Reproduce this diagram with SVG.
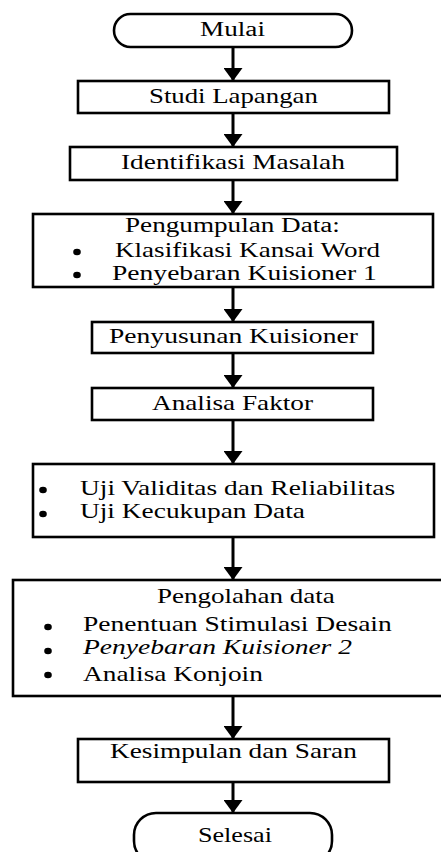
<svg xmlns="http://www.w3.org/2000/svg" width="441" height="852" viewBox="0 0 441 852">
<defs>
<style>
.box{fill:#fff;stroke:#000;stroke-width:2.6}
.con{stroke:#000;stroke-width:3;fill:none}
</style>
<marker id="ah" markerUnits="userSpaceOnUse" viewBox="0 0 13 19" markerWidth="13" markerHeight="19" refX="13" refY="9.5" orient="auto">
<path d="M0,0 L13,9.5 L0,19 z" fill="#000"/>
</marker>
</defs>
<rect width="441" height="852" fill="#fff"/>
<g id="connectors">
<line class="con" x1="233" y1="47" x2="233" y2="81" marker-end="url(#ah)"/>
<line class="con" x1="233" y1="113" x2="233" y2="147" marker-end="url(#ah)"/>
<line class="con" x1="233" y1="180" x2="233" y2="214" marker-end="url(#ah)"/>
<line class="con" x1="233" y1="287" x2="233" y2="322" marker-end="url(#ah)"/>
<line class="con" x1="233" y1="353" x2="233" y2="388" marker-end="url(#ah)"/>
<line class="con" x1="233" y1="420" x2="233" y2="464" marker-end="url(#ah)"/>
<line class="con" x1="233" y1="537" x2="233" y2="580" marker-end="url(#ah)"/>
<line class="con" x1="233" y1="696" x2="233" y2="739" marker-end="url(#ah)"/>
<line class="con" x1="233" y1="782" x2="233" y2="813" marker-end="url(#ah)"/>
</g>
<g font-family="Liberation Serif" font-size="20" fill="#000">
<g id="mulai">
<rect class="box" x="114" y="14" width="238" height="33" rx="16.5"/>
<text transform="translate(200,36) scale(1.36,1)">Mulai</text>
</g>
<g id="studi">
<rect class="box" x="78" y="81" width="311" height="32"/>
<text transform="translate(149,103) scale(1.34,1)">Studi Lapangan</text>
</g>
<g id="identifikasi">
<rect class="box" x="70" y="147" width="327" height="33"/>
<text transform="translate(121,169) scale(1.367,1)">Identifikasi Masalah</text>
</g>
<g id="pengumpulan">
<rect class="box" x="33" y="214" width="400" height="73"/>
<text transform="translate(125,232) scale(1.358,1)">Pengumpulan Data:</text>
<ellipse cx="77" cy="252" rx="3.8" ry="3.3"/>
<text transform="translate(115,257) scale(1.355,1)">Klasifikasi Kansai Word</text>
<ellipse cx="77" cy="275" rx="3.8" ry="3.3"/>
<text transform="translate(112,280) scale(1.379,1)">Penyebaran Kuisioner 1</text>
</g>
<g id="penyusunan">
<rect class="box" x="92" y="322" width="281" height="31"/>
<text transform="translate(109,343) scale(1.379,1)">Penyusunan Kuisioner</text>
</g>
<g id="analisa">
<rect class="box" x="92" y="388" width="281" height="32"/>
<text transform="translate(152,410) scale(1.361,1)">Analisa Faktor</text>
</g>
<g id="uji">
<rect class="box" x="33" y="464" width="401" height="73"/>
<ellipse cx="43" cy="490" rx="3.8" ry="3.3"/>
<text transform="translate(80,495) scale(1.37,1)">Uji Validitas dan Reliabilitas</text>
<ellipse cx="43" cy="514" rx="3.8" ry="3.3"/>
<text transform="translate(80,518) scale(1.369,1)">Uji Kecukupan Data</text>
</g>
<g id="pengolahan">
<rect class="box" x="13" y="580" width="445" height="116"/>
<text transform="translate(157,603) scale(1.352,1)">Pengolahan data</text>
<ellipse cx="48" cy="627" rx="3.8" ry="3.3"/>
<text transform="translate(83,631) scale(1.377,1)">Penentuan Stimulasi Desain</text>
<ellipse cx="48" cy="651" rx="3.8" ry="3.3"/>
<text font-style="italic" transform="translate(83,654) scale(1.376,1)">Penyebaran Kuisioner 2</text>
<ellipse cx="48" cy="675" rx="3.8" ry="3.3"/>
<text transform="translate(83,681) scale(1.367,1)">Analisa Konjoin</text>
</g>
<g id="kesimpulan">
<rect class="box" x="78" y="739" width="311" height="43"/>
<text transform="translate(110,758) scale(1.364,1)">Kesimpulan dan Saran</text>
</g>
<g id="selesai">
<rect class="box" x="134" y="813" width="198" height="50" rx="22"/>
<text transform="translate(198,842) scale(1.306,1)">Selesai</text>
</g>
</g>
</svg>
